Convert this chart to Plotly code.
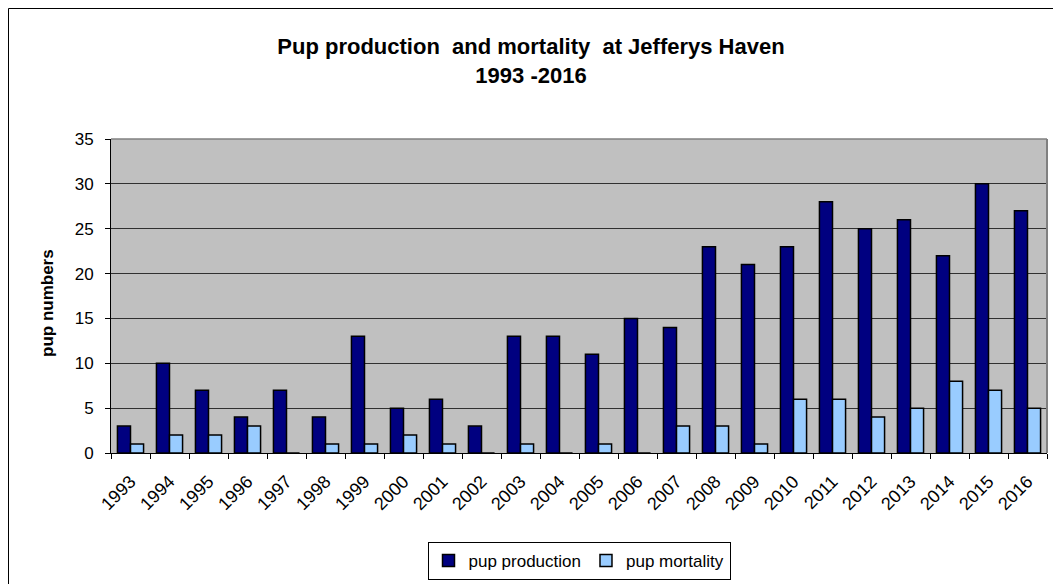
import plotly.graph_objects as go

years = [str(y) for y in range(1993, 2017)]
pup_production = [3, 10, 7, 4, 7, 4, 13, 5, 6, 3, 13, 13, 11, 15, 14, 23, 21, 23, 28, 25, 26, 22, 30, 27]
pup_mortality = [1, 2, 2, 3, 0, 1, 1, 2, 1, 0, 1, 0, 1, 0, 3, 3, 1, 6, 6, 4, 5, 8, 7, 5]

OFF = 8  # page body margin
W, H = 1061 - OFF, 584 - OFF
L, R, T, B = 111 - OFF, 14, 139 - OFF, 584 - 453
pw, ph = W - L - R, H - T - B

def px_x(p):
    return (p - OFF - L) / pw

def px_y(p):
    return (H - B - (p - OFF)) / ph

fig = go.Figure()
fig.add_trace(go.Bar(x=years, y=pup_production, name="pup production",
                     marker=dict(color="#000080", line=dict(color="black", width=1.5))))
fig.add_trace(go.Bar(x=years, y=pup_mortality, name="pup mortality",
                     marker=dict(color="#99CCFF", line=dict(color="black", width=1.5))))

font = "Liberation Sans, Arial, sans-serif"
fig.update_layout(
    width=W, height=H,
    margin=dict(l=L, r=R, t=T, b=B, autoexpand=False),
    paper_bgcolor="white", plot_bgcolor="#C0C0C0",
    barmode="group", bargap=0.33, bargroupgap=0.0,
    font=dict(family=font, size=16, color="black"),
    title=dict(text="<b>Pup production  and mortality  at Jefferys Haven<br>1993 -2016</b>",
               x=px_x(531), xref="paper", xanchor="center",
               y=1 - (54 - OFF) / H, yanchor="middle",
               font=dict(family=font, size=22, color="black")),
    showlegend=True,
    legend=dict(orientation="h", x=px_x(579), xanchor="center", y=px_y(542), yanchor="top",
                bordercolor="black", borderwidth=1, bgcolor="white",
                font=dict(family=font, size=17), itemwidth=30, traceorder="normal"),
    xaxis=dict(type="category", showgrid=False, ticks="outside", tickson="boundaries",
               ticklen=5, tickcolor="black", showline=True, linecolor="black", linewidth=1,
               tickangle=-45, tickfont=dict(size=18), ticklabelstandoff=10, mirror=False),
    yaxis=dict(range=[0, 35], dtick=5, showgrid=True, gridcolor="#303030", gridwidth=1,
               ticks="outside", ticklen=5, tickcolor="black", showline=True,
               linecolor="black", linewidth=1, zeroline=False, ticklabelstandoff=8,
               tickfont=dict(size=17)),
    annotations=[
        dict(text="<b>pup numbers</b>", textangle=-90, xref="paper", yref="paper",
             x=px_x(47), y=px_y(303), xanchor="center", yanchor="middle",
             showarrow=False, font=dict(family=font, size=17, color="black")),
    ],
    shapes=[
        # plot-area border (top and right)
        dict(type="line", xref="paper", yref="paper", x0=0, x1=1, y0=1, y1=1,
             line=dict(color="#808080", width=1.5)),
        dict(type="line", xref="paper", yref="paper", x0=1, x1=1, y0=0, y1=1,
             line=dict(color="#808080", width=2)),
        # chart outer border
        dict(type="line", xref="paper", yref="paper", x0=px_x(8.5), x1=px_x(1070),
             y0=px_y(8.5), y1=px_y(8.5), line=dict(color="black", width=1)),
        dict(type="line", xref="paper", yref="paper", x0=px_x(8.5), x1=px_x(8.5),
             y0=px_y(8.5), y1=px_y(600), line=dict(color="black", width=1)),
    ],
)

fig.write_html("out.html")
